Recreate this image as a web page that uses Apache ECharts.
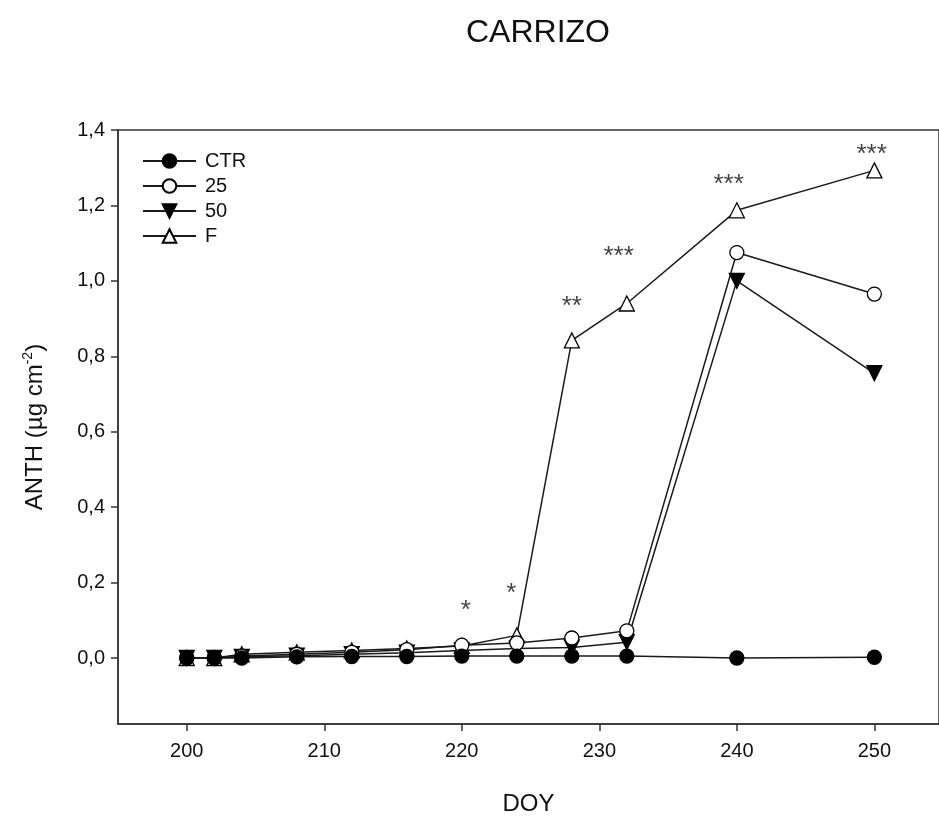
<!DOCTYPE html>
<html>
<head>
<meta charset="utf-8">
<script src="https://cdn.jsdelivr.net/npm/echarts@6/dist/echarts.min.js"></script>
<style>html,body{margin:0;padding:0;background:#fff}#c{width:939px;height:821px}</style>
</head>
<body>
<div id="c"></div>
<script>
const days = [200, 202, 204, 208, 212, 216, 220, 224, 228, 232, 240, 250];
const ctr  = [0, 0, 0, 0.003, 0.004, 0.004, 0.005, 0.005, 0.005, 0.005, 0, 0.002];
const s25  = [0, 0, 0.005, 0.01, 0.015, 0.022, 0.034, 0.04, 0.053, 0.072, 1.075, 0.965];
const s50  = [0, 0, 0.003, 0.006, 0.01, 0.014, 0.02, 0.025, 0.028, 0.042, 1.0, 0.755];
const sF   = [0, 0, 0.01, 0.015, 0.02, 0.025, 0.032, 0.06, 0.842, 0.94, 1.187, 1.293];
const xTicks = [200, 210, 220, 230, 240, 250];
const yTicks = [0, 0.2, 0.4, 0.6, 0.8, 1.0, 1.2, 1.4];
const starDays = [220.3, 223.6, 228.0, 231.4, 239.4, 249.8];
const starVals = [0.125, 0.17, 0.93, 1.065, 1.255, 1.335];
const starText = ['*', '*', '**', '***', '***', '***'];

const FONT = 'Liberation Sans';
const chart = echarts.init(document.getElementById('c'), null, {renderer: 'canvas'});
const pair = arr => days.map((d, i) => [d, arr[i]]);
const lineStyle = {color: '#1a1a1a', width: 1.5};
function mk(name, data, symbol, fill, size) {
  return {
    name, type: 'line', data: pair(data), symbol, symbolSize: size,
    lineStyle, itemStyle: {color: fill, borderColor: '#000', borderWidth: 1.3},
    emphasis: {disabled: true}, animation: false, z: 3
  };
}
chart.setOption({
  animation: false,
  backgroundColor: '#fff',
  title: {
    text: 'CARRIZO', left: 533, top: 12, textAlign: 'center',
    textStyle: {fontFamily: FONT, fontSize: 32, fontWeight: 'normal', color: '#111'}
  },
  grid: {left: 118, top: 130, right: -5, bottom: 95, show: true, borderColor: '#333', borderWidth: 1.5},
  legend: {
    orient: 'vertical', left: 137, top: 146, itemWidth: 53, itemHeight: 17, itemGap: 5,
    textStyle: {fontFamily: FONT, fontSize: 20, color: '#111', padding: [0, 0, 0, 4]},
    data: ['CTR', '25', '50', 'F']
  },
  xAxis: {
    type: 'value', min: 195, max: 254.7,
    name: 'DOY', nameLocation: 'middle', nameGap: 68,
    nameTextStyle: {fontFamily: FONT, fontSize: 24, color: '#111'},
    axisLine: {onZero: false, lineStyle: {color: '#333', width: 1.5}},
    axisTick: {show: true, inside: false, length: 7, customValues: xTicks, lineStyle: {color: '#333', width: 1.5}},
    axisLabel: {customValues: xTicks, fontFamily: FONT, fontSize: 20, color: '#111', margin: 17},
    splitLine: {show: false}
  },
  yAxis: {
    type: 'value', min: -0.175, max: 1.4,
    name: 'ANTH (µg cm{sup|-2})', nameLocation: 'middle', nameGap: 68,
    nameTextStyle: {fontFamily: FONT, fontSize: 24, color: '#111',
      rich: {sup: {fontFamily: FONT, fontSize: 14, verticalAlign: 'bottom', padding: [0, 0, 15, 0], color: '#111'}}},
    axisLine: {onZero: false, lineStyle: {color: '#333', width: 1.5}},
    axisTick: {show: true, inside: false, length: 7, customValues: yTicks, lineStyle: {color: '#333', width: 1.5}},
    axisLabel: {customValues: yTicks, fontFamily: FONT, fontSize: 20, color: '#111', margin: 13,
      formatter: v => v.toFixed(1).replace('.', ',')},
    splitLine: {show: false}
  },
  series: [
    mk('F', sF, 'triangle', '#fff', 15),
    mk('50', s50, 'path://M0,0 L10,0 L5,9 Z', '#000', 15),
    mk('25', s25, 'circle', '#fff', 14),
    mk('CTR', ctr, 'circle', '#000', 14),
    {
      type: 'scatter', silent: true, symbolSize: 0,
      data: starDays.map((d, i) => [d, starVals[i], starText[i]]),
      label: {show: true, position: 'inside', formatter: p => p.data[2],
        fontFamily: FONT, fontSize: 26, color: '#111', letterSpacing: 3},
      z: 5
    }
  ]
});
</script>
</body>
</html>
